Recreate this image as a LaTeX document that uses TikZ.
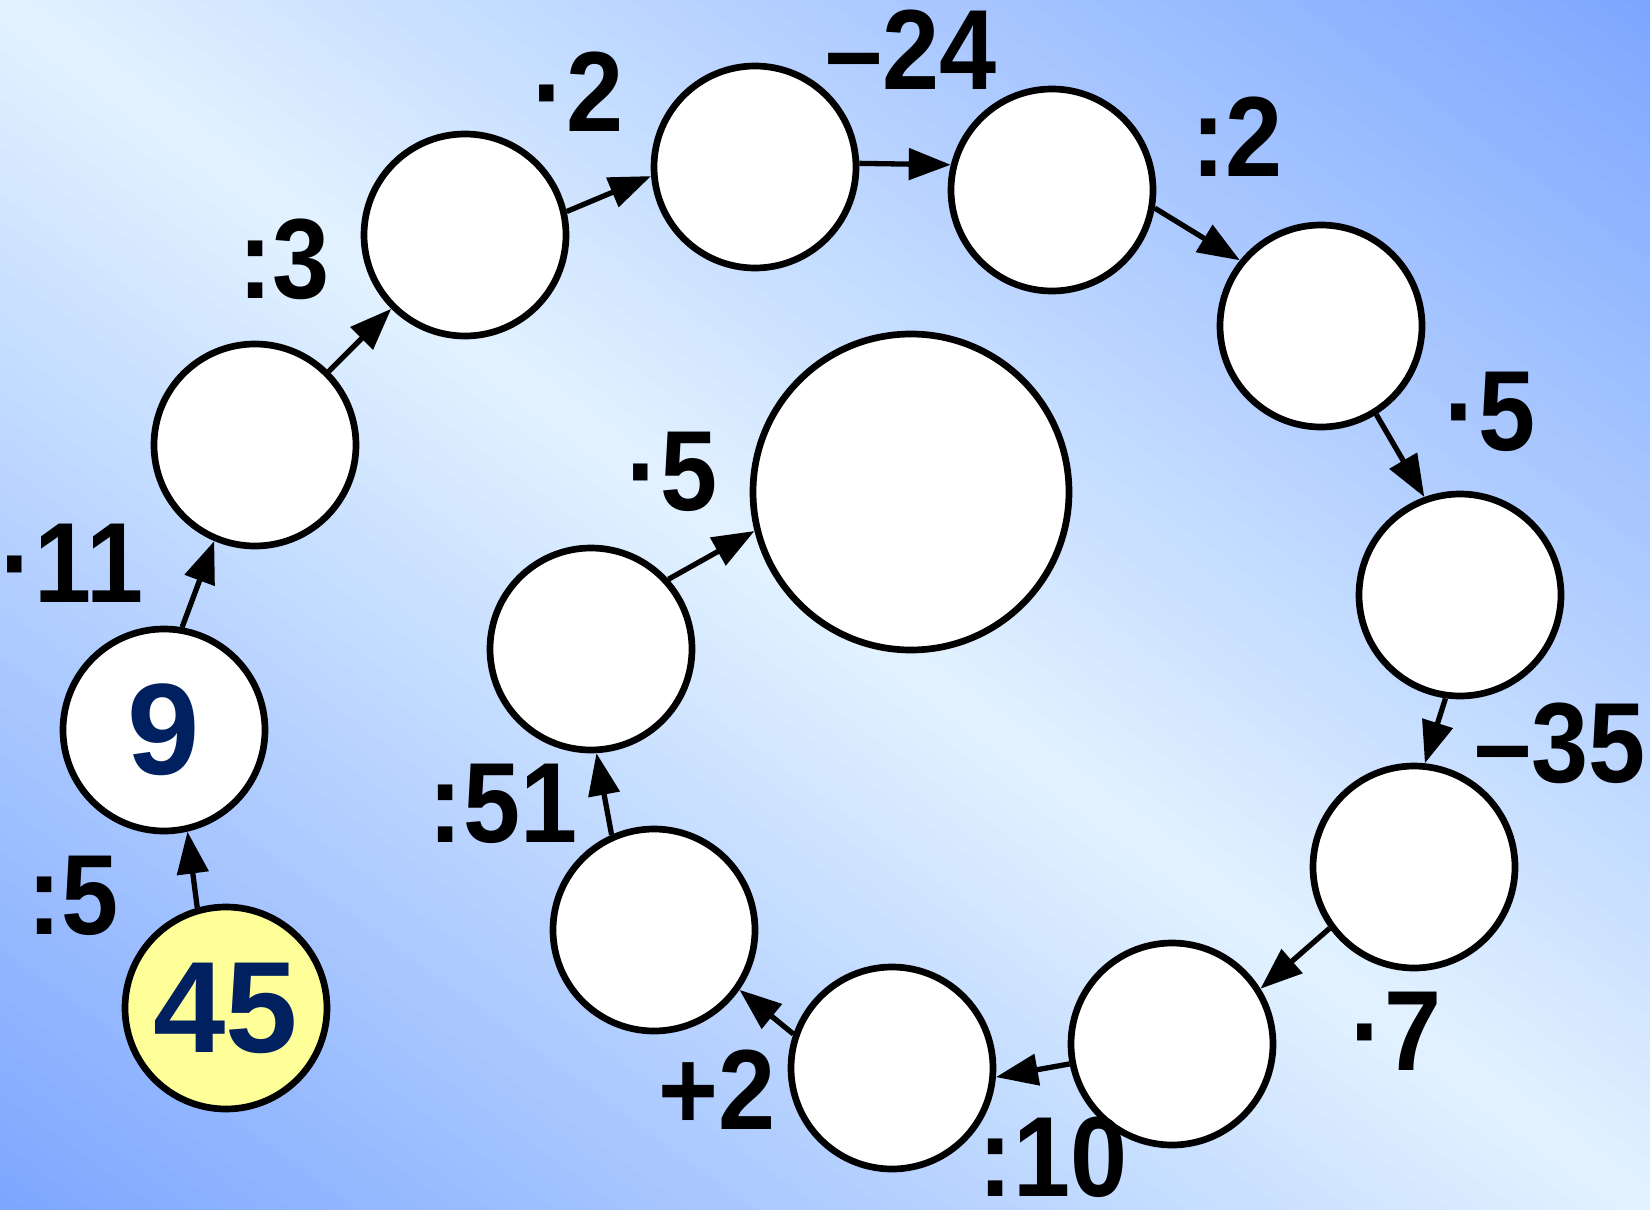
\documentclass[tikz,border=0pt]{standalone}
\usepackage{fontspec}
\setmainfont{Liberation Sans}
\usetikzlibrary{arrows.meta}
\definecolor{bglight}{RGB}{226,242,255}
\definecolor{bgdark}{RGB}{124,166,255}
\definecolor{navy}{RGB}{0,32,96}
\definecolor{pale}{RGB}{255,255,153}
\newcommand\narrowtxt[1]{\scalebox{0.9}[1]{#1}}
\tikzset{
  ball/.style={circle, draw=black, line width=6.7pt, fill=white, minimum size=202pt, inner sep=0pt},
  bigball/.style={ball, minimum size=316pt},
  num/.style={font=\fontsize{130}{130}\selectfont\bfseries, text=navy},
  op/.style={font=\fontsize{114}{114}\selectfont\bfseries, anchor=base, inner sep=0pt},
  link/.style={line width=5.3pt, -{Triangle[length=42pt,width=31pt]}}
}
\begin{document}
\begin{tikzpicture}[x=1pt,y=-1pt]
\useasboundingbox (0,0) rectangle (1650,1210);
% background gradient
\begin{scope}
  \clip (0,0) rectangle (1650,1210);
  \begin{scope}[shift={(825,605)}, rotate=-36.25]
    \foreach \i in {0,...,99}{
      \pgfmathsetmacro\s{-980+\i*19.6}
      \pgfmathsetmacro\m{min(100,abs(\s+9.8)/9.8)}
      \fill[bgdark!\m!bglight] (-1300,\s) rectangle (1300,\s+20.6);
    }
  \end{scope}
\end{scope}
% circles
\node[ball, fill=pale, num] (n1) at (226,1008) {45};
\node[ball, num] (n2) at (164,730) {9};
\node[ball] (n3) at (255,445) {};
\node[ball] (n4) at (465,235) {};
\node[ball] (n5) at (755,167) {};
\node[ball] (n6) at (1052,190) {};
\node[ball] (n7) at (1321,326) {};
\node[ball] (n8) at (1460,595) {};
\node[ball] (n9) at (1414,867) {};
\node[ball] (n10) at (1172,1044) {};
\node[ball] (n11) at (892,1068) {};
\node[ball] (n12) at (654,930) {};
\node[ball] (n13) at (591,649) {};
\node[bigball] (n14) at (911,492) {};
% arrows
\draw[link] (n1.106) -- (n2.283);
\draw[link] (n2.80) -- (n3.247);
\draw[link] (n3.45) -- (n4.225);
\draw[link] (n4.13) -- (n5.185);
\draw[link] (n5.2) -- (n6.166);
\draw[link] (n6.350) -- (n7.141);
\draw[link] (n7.302) -- (n8.110);
\draw[link] (n8.262) -- (n9.84);
\draw[link] (n9.216) -- (n10.32);
\draw[link] (n10.191) -- (n11.355);
\draw[link] (n11.161) -- (n12.325);
\draw[link] (n12.114) -- (n13.273);
\draw[link] (n13.42) -- (n14.194);
% labels
\node[op] (l1) at (73,934) {\narrowtxt{:5}};
\node[op] (l2) at (72,602) {\narrowtxt{·11}};
\node[op] (l3) at (284,298) {\narrowtxt{:3}};
\node[op] (l4) at (578,131) {\narrowtxt{·2}};
\node[op] (l5) at (911,89) {\narrowtxt{–24}};
\node[op] (l6) at (1237,176) {\narrowtxt{:2}};
\node[op] (l7) at (1490,450) {\narrowtxt{·5}};
\node[op] (l8) at (1560,782) {\narrowtxt{–35}};
\node[op] (l9) at (1396,1070) {\narrowtxt{·7}};
\node[op] (l10) at (1053,1196) {\narrowtxt{:10}};
\node[op] (l11) at (717,1129) {\narrowtxt{+2}};
\node[op] (l12) at (503,842) {\narrowtxt{:51}};
\node[op] (l13) at (672,510) {\narrowtxt{·5}};
\end{tikzpicture}
\end{document}
